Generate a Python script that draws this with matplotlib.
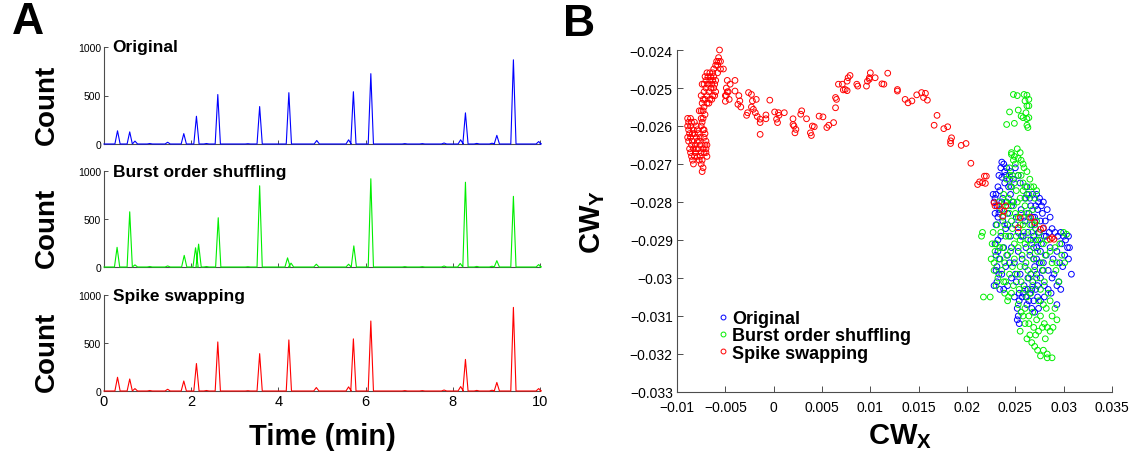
import numpy as np
import matplotlib
matplotlib.use("Agg")
import matplotlib.pyplot as plt
from matplotlib.lines import Line2D
from matplotlib.ticker import FuncFormatter

plt.rcParams['font.family'] = ['Liberation Sans', 'DejaVu Sans']
plt.rcParams['mathtext.fontset'] = 'custom'
plt.rcParams['mathtext.bf'] = 'Liberation Sans:bold'
plt.rcParams['mathtext.rm'] = 'Liberation Sans'

# ---------------- Panel A: spike-count histograms (peak time in min, count) ----------------
panel_titles = ["Original", "Burst order shuffling", "Spike swapping"]
trace_colors = ["#0000ff", "#00ee00", "#ff0000"]

orig_peaks = [(0.31, 136), (0.59, 125), (0.71, 30), (1.05, 5), (1.46, 18), (1.83, 107),
              (2.12, 286), (2.35, 5), (2.61, 510), (3.3, 3), (3.57, 386), (4.24, 529),
              (4.88, 36), (5.61, 43), (5.72, 539), (6.12, 725), (6.9, 4), (7.3, 4),
              (7.8, 10), (8.18, 43), (8.29, 321), (8.55, 6), (8.9, 8), (9.01, 89),
              (9.39, 868), (9.97, 25)]
shuffle_peaks = [(0.30, 205), (0.59, 575), (0.71, 22), (1.05, 5), (1.46, 11), (1.84, 121),
                 (2.10, 200), (2.17, 238), (2.35, 5), (2.62, 513), (3.3, 3), (3.57, 846),
                 (4.21, 95), (4.29, 40), (4.87, 29), (5.61, 29), (5.73, 220), (6.12, 919),
                 (6.9, 4), (7.3, 4), (7.8, 10), (8.17, 37), (8.29, 883), (8.55, 6),
                 (8.9, 8), (9.01, 66), (9.39, 736), (9.97, 25)]
swap_peaks = [(0.31, 143), (0.59, 125), (0.71, 25), (1.05, 5), (1.46, 18), (1.83, 104),
              (2.12, 286), (2.35, 5), (2.61, 511), (3.3, 3), (3.57, 389), (4.24, 532),
              (4.87, 36), (5.61, 43), (5.72, 543), (6.12, 729), (6.9, 4), (7.3, 4),
              (7.8, 10), (8.18, 46), (8.29, 329), (8.55, 6), (8.9, 8), (9.01, 89),
              (9.39, 871), (9.97, 25)]
all_peaks = [orig_peaks, shuffle_peaks, swap_peaks]

time_ticks = [0, 2, 4, 6, 8, 10]
count_ticks = [0, 500, 1000]
peak_halfwidth = 0.06

# ---------------- Panel B: CW_X / CW_Y coordinates (units of 1e-3) ----------------
orig_cw_milli = [
    (23.6, -26.95), (23.8, -27.0), (23.5, -27.1), (24.1, -27.1), (23.3, -27.3), (23.6, -27.35),
    (24.0, -27.3), (24.5, -27.2), (25.0, -27.1), (25.3, -27.3), (24.8, -27.4), (23.9, -27.5),
    (23.2, -27.6), (23.0, -27.8), (22.7, -27.8), (23.4, -27.7), (24.3, -27.6), (25.5, -27.5),
    (26.2, -27.6), (26.8, -27.8), (27.2, -27.8), (27.5, -27.9), (26.0, -27.9), (27.9, -28.0),
    (27.7, -28.1),
    (22.8, -28.0), (23.1, -28.1), (22.9, -28.3), (23.2, -28.4), (23.0, -28.6), (23.4, -28.2),
    (23.7, -28.5), (24.2, -28.3), (24.6, -28.1), (25.1, -28.4), (25.6, -28.2), (26.0, -28.5),
    (26.4, -28.3), (26.7, -28.6), (27.0, -28.4), (27.3, -28.2), (27.6, -28.5), (27.9, -28.7),
    (28.3, -28.2), (28.6, -28.4), (28.2, -28.9), (28.8, -28.7), (29.1, -28.8), (29.4, -28.9),
    (29.7, -28.8), (30.0, -28.9), (30.5, -28.9), (23.5, -28.9), (24.0, -28.7), (24.5, -28.9),
    (25.3, -28.8), (25.8, -28.9), (26.3, -28.8), (26.9, -28.9), (27.4, -28.8), (25.0, -28.6),
    (24.8, -28.0), (26.6, -28.1), (27.1, -28.7),
    (22.9, -29.1), (23.2, -29.3), (23.1, -29.7), (23.0, -29.8), (23.4, -29.5), (23.8, -29.2),
    (24.2, -29.4), (24.6, -29.2), (24.9, -29.6), (25.3, -29.3), (25.7, -29.5), (26.1, -29.2),
    (26.5, -29.4), (26.9, -29.2), (27.2, -29.5), (27.6, -29.3), (27.9, -29.6), (28.2, -29.4),
    (28.6, -29.2), (28.9, -29.5), (29.3, -29.3), (29.6, -29.6), (30.1, -29.4), (30.4, -29.2),
    (30.6, -29.2), (30.5, -29.5), (30.8, -29.9), (29.5, -30.1), (29.3, -30.2), (28.8, -30.0),
    (28.4, -30.3), (28.0, -30.2), (27.6, -30.0), (27.2, -29.9), (26.8, -30.1), (26.3, -30.0),
    (25.9, -30.2), (25.5, -29.9), (25.1, -30.1), (24.6, -30.0), (24.2, -30.2), (23.8, -30.3),
    (23.4, -30.3), (22.8, -30.2), (23.6, -29.9), (24.0, -29.7), (26.0, -29.7), (27.0, -29.7),
    (28.4, -29.8), (29.0, -29.9),
    (25.4, -30.4), (25.7, -30.5), (26.1, -30.5), (26.5, -30.4), (26.9, -30.6), (27.3, -30.5),
    (27.0, -30.9), (25.2, -30.8), (25.3, -31.0), (25.2, -31.1), (25.4, -31.2), (26.2, -30.7),
    (27.4, -30.8), (29.3, -30.7), (24.9, -30.5),
    (23.9, -27.2), (24.4, -27.4), (23.7, -27.9), (24.1, -28.0), (24.5, -27.8), (22.9, -27.9),
    (23.3, -28.3), (23.6, -28.0), (27.4, -28.0), (27.8, -28.3), (28.1, -28.5), (28.5, -28.8),
    (27.3, -29.0), (27.7, -29.1), (28.0, -28.9), (27.2, -29.2), (27.5, -29.6), (27.8, -29.8),
    (27.3, -30.2), (26.7, -30.3), (27.1, -30.3), (26.6, -29.9), (26.9, -29.5), (26.6, -29.0),
    (26.8, -28.4), (27.1, -28.1), (26.5, -27.9), (24.6, -27.6), (23.2, -29.0), (23.0, -29.4),
    (23.3, -29.9), (23.1, -30.1), (24.4, -29.6), (25.0, -29.9), (25.8, -30.4), (26.4, -30.6),
    (26.7, -30.8), (25.4, -30.6), (29.8, -29.1), (30.2, -29.0), (29.9, -29.7), (29.7, -30.3),
    (28.7, -30.4), (28.0, -30.5), (27.6, -30.6), (26.3, -30.3), (25.6, -28.9), (24.2, -28.6),
    (25.9, -28.4), (26.2, -27.8),
]

shuffle_cw_milli = [
    (24.8, -25.17), (25.2, -25.2), (25.9, -25.17), (26.2, -25.19), (26.4, -25.3), (26.0, -25.34),
    (26.2, -25.47), (26.4, -25.47), (24.4, -25.63), (25.3, -25.58), (25.6, -25.74), (26.1, -25.65),
    (26.2, -25.81), (26.4, -25.78), (24.1, -25.96), (24.9, -25.93), (26.2, -25.98), (26.3, -26.04),
    (25.8, -25.78),
    (25.2, -26.6), (25.5, -26.7), (24.6, -26.7), (24.9, -26.8), (25.6, -26.9), (25.0, -27.0),
    (24.4, -27.1), (25.9, -27.1), (26.2, -27.2), (24.7, -27.3), (25.3, -27.3), (26.5, -27.4),
    (24.1, -27.4), (25.8, -27.5), (26.9, -27.6), (27.2, -27.7), (24.5, -27.6), (25.1, -27.7),
    (23.8, -27.8), (26.4, -27.8),
    (23.3, -28.0), (23.6, -28.2), (24.0, -28.0), (24.4, -28.3), (24.8, -28.1), (25.2, -28.0),
    (25.6, -28.3), (26.0, -28.1), (26.4, -28.4), (26.8, -28.2), (27.2, -28.5), (23.1, -28.6),
    (23.5, -28.8), (23.9, -28.6), (24.3, -28.9), (24.7, -28.7), (25.1, -28.9), (25.5, -28.6),
    (25.9, -28.8), (26.3, -29.0), (26.7, -28.8), (27.1, -29.0), (27.5, -28.8), (27.9, -29.1),
    (22.6, -29.1), (22.9, -29.3), (23.3, -29.5), (23.7, -29.2), (24.1, -29.4), (24.5, -29.3),
    (24.9, -29.5), (25.3, -29.2), (25.7, -29.4), (26.1, -29.6), (26.5, -29.3), (26.9, -29.5),
    (27.3, -29.3), (27.7, -29.6), (28.1, -29.4), (28.6, -29.3), (29.1, -29.2), (29.6, -29.1),
    (30.0, -28.8), (30.3, -28.85), (29.8, -29.4), (30.1, -29.6), (22.8, -29.8), (23.2, -30.0),
    (23.6, -29.8), (24.0, -30.1), (24.4, -29.9), (24.8, -30.2), (25.2, -29.9), (25.6, -30.1),
    (26.0, -30.3), (26.4, -30.0), (26.8, -30.2), (27.2, -30.0), (27.6, -30.3), (28.0, -30.1),
    (29.5, -30.1), (29.2, -29.8), (21.6, -28.8), (21.5, -28.9), (21.7, -30.5), (22.4, -30.5),
    (22.5, -29.5), (23.9, -30.4), (24.3, -30.5),
    (25.3, -30.7), (25.6, -30.9), (26.0, -30.8), (26.4, -31.0), (26.8, -30.9), (27.2, -31.1),
    (27.6, -31.0), (28.0, -31.2), (28.3, -31.3), (28.8, -31.0), (29.3, -31.1), (28.6, -30.6),
    (28.4, -30.4), (27.9, -30.7), (27.4, -31.4), (26.9, -31.3), (26.5, -31.5), (26.0, -31.2),
    (25.5, -31.4), (26.2, -31.6), (26.7, -31.7), (27.0, -31.8), (27.3, -31.9), (27.9, -31.9),
    (28.3, -32.0), (27.6, -32.05), (28.3, -32.1), (28.8, -32.1), (28.1, -31.6), (28.6, -31.4),
    (24.6, -26.75), (24.8, -26.9), (25.3, -26.85), (25.8, -27.0), (24.4, -27.3), (25.6, -27.3),
    (24.9, -27.5), (26.0, -27.6), (26.6, -27.6), (24.3, -27.9), (25.5, -27.9), (26.1, -27.9),
    (27.0, -27.9), (23.7, -28.4), (24.6, -28.5), (25.3, -28.4), (25.8, -28.6), (26.5, -28.6),
    (27.0, -28.6), (24.0, -28.9), (24.9, -29.1), (25.5, -29.0), (26.0, -29.1), (26.7, -29.1),
    (23.4, -29.2), (23.9, -29.6), (24.7, -29.7), (25.5, -29.7), (26.3, -29.8), (27.0, -29.8),
    (27.9, -29.8), (23.0, -30.2), (23.8, -30.1), (24.6, -30.4), (25.4, -30.3), (26.2, -30.5),
    (26.6, -30.4), (27.4, -30.6), (28.2, -30.8), (27.8, -31.3), (27.1, -31.5), (26.4, -31.2),
    (25.8, -31.0), (28.9, -31.3), (29.1, -30.8), (22.7, -28.8), (23.0, -29.1), (22.8, -29.6),
    (24.2, -28.1), (25.0, -28.3), (26.2, -28.3), (27.5, -29.0), (28.3, -29.0), (28.8, -29.6),
    (29.3, -29.6), (24.2, -30.6), (25.8, -27.7), (24.7, -28.0),
]

swap_cw_milli = [
    # lower-left cloud
    (-8.9, -25.8), (-8.8, -25.9), (-8.6, -25.8), (-8.5, -25.9), (-8.9, -26.0), (-8.8, -26.1),
    (-8.9, -26.3), (-8.8, -26.4), (-8.7, -26.2), (-8.6, -26.3), (-8.5, -26.5), (-8.4, -26.4),
    (-8.7, -26.6), (-8.6, -26.7), (-8.5, -26.8), (-8.4, -26.9), (-8.3, -27.0), (-8.2, -26.8),
    (-8.3, -26.6), (-8.1, -26.5), (-8.0, -26.3), (-8.2, -26.2), (-8.0, -26.6), (-7.9, -26.8),
    (-7.8, -26.6), (-7.7, -26.4), (-7.8, -26.2), (-7.6, -26.5), (-7.5, -26.7), (-7.4, -26.9),
    (-7.5, -27.0), (-7.4, -27.2), (-7.3, -27.1), (-7.6, -26.3), (-7.5, -26.0), (-7.4, -25.9),
    (-7.3, -26.1), (-7.2, -26.3), (-7.1, -26.5), (-7.2, -26.7), (-7.0, -26.6), (-6.9, -26.8),
    (-7.0, -26.4), (-6.9, -26.5), (-7.1, -26.2), (-7.5, -25.8), (-7.7, -25.6), (-8.2, -25.9),
    (-8.0, -26.0), (-8.3, -26.1), (-7.9, -26.4), (-8.1, -26.7), (-7.7, -26.9), (-7.3, -26.6),
    (-7.6, -26.8), (-7.2, -26.1), (-7.0, -26.7), (-8.6, -26.0), (-8.4, -26.2), (-7.9, -26.1),
    # rising column
    (-7.5, -25.6), (-7.4, -25.4), (-7.3, -25.6), (-7.2, -25.5), (-7.3, -25.3), (-7.5, -25.2),
    (-7.2, -25.1), (-7.4, -24.9), (-7.1, -25.3), (-7.0, -25.0), (-7.0, -24.8), (-6.9, -25.2),
    (-6.8, -24.9), (-6.8, -24.7), (-6.7, -25.1), (-6.6, -24.8), (-6.6, -25.3), (-6.5, -25.0),
    (-6.5, -24.7), (-6.4, -24.9), (-6.3, -25.2), (-6.3, -24.8), (-6.2, -25.0), (-6.2, -24.7),
    (-6.1, -24.9), (-6.0, -24.8), (-7.1, -24.7), (-6.9, -24.6), (-6.7, -25.4), (-6.4, -25.3),
    (-6.1, -25.2), (-7.3, -25.8), (-7.1, -25.7), (-6.6, -24.6), (-6.3, -24.6), (-6.9, -25.4),
    (-7.2, -24.9), (-6.0, -25.1),
    # summit
    (-6.2, -24.5), (-6.0, -24.4), (-5.9, -24.3), (-5.8, -24.4), (-5.7, -24.2), (-5.6, -24.0),
    (-5.7, -24.3), (-5.5, -24.3), (-5.5, -24.5), (-5.2, -24.5), (-5.8, -24.6),
    # path towards the cluster
    (-5.0, -25.2), (-4.9, -25.0), (-4.8, -24.8), (-4.7, -25.1), (-4.6, -25.3), (-5.0, -25.35),
    (-4.9, -25.2), (-4.8, -25.1), (-4.5, -24.9), (-4.0, -24.8), (-4.0, -25.08), (-3.6, -25.2),
    (-3.5, -25.34), (-3.4, -25.5), (-3.7, -25.43), (-2.6, -25.12), (-2.3, -25.17), (-2.2, -25.34),
    (-2.3, -25.5), (-2.7, -25.65), (-2.8, -25.72), (-2.1, -25.56), (-1.9, -25.65), (-1.8, -25.3),
    (-1.7, -25.75), (-1.4, -25.82), (-1.4, -25.91), (-1.4, -26.22), (-0.8, -25.81), (-0.8, -25.71),
    (-0.4, -25.32), (0.1, -25.63), (0.5, -25.65), (0.3, -25.82), (0.4, -25.91), (0.55, -25.72),
    (1.1, -25.65), (2.0, -25.81), (2.0, -25.96), (2.1, -26.0), (2.3, -26.09), (2.2, -26.18),
    (2.8, -25.69), (2.9, -25.6), (3.4, -25.81), (3.8, -26.18), (3.9, -26.25), (4.0, -26.0),
    (4.2, -26.02), (4.7, -25.74), (5.1, -25.76), (5.5, -26.04), (5.7, -25.98), (6.2, -25.91),
    (6.4, -25.52), (6.5, -25.3), (6.4, -25.25), (6.7, -24.9), (7.1, -24.9), (7.2, -25.05),
    (7.4, -25.04), (7.6, -24.82), (7.7, -24.73), (7.9, -24.67), (7.6, -25.07), (8.6, -24.9),
    (8.7, -24.95), (9.6, -24.95), (9.7, -24.82), (9.9, -24.73), (10.0, -24.6), (9.9, -24.77),
    (10.5, -24.73), (11.2, -24.89), (11.4, -24.9), (11.8, -24.61), (12.8, -25.04), (12.8, -25.08),
    (13.6, -25.3), (13.9, -25.39), (14.3, -25.34), (14.8, -25.18), (15.3, -25.12), (15.7, -25.14),
    (15.5, -25.25), (15.9, -25.32), (16.6, -25.98), (16.9, -25.72), (17.6, -26.07), (18.0, -26.02),
    (18.3, -26.39), (18.4, -26.31), (18.3, -26.46), (19.4, -26.51), (19.9, -26.46), (20.4, -26.98),
    (21.1, -27.54), (21.3, -27.47), (21.6, -27.49), (21.8, -27.32), (22.0, -27.32), (21.9, -27.51),
    (22.8, -28.02), (22.9, -28.1), (23.3, -28.1), (23.8, -28.24), (24.0, -28.1), (23.7, -28.37),
    (25.3, -28.68), (25.5, -28.41), (26.6, -28.41), (27.0, -28.54), (27.6, -28.72), (27.9, -28.68),
    (28.8, -28.94), (29.0, -28.98), (28.6, -28.98),
]

scatter_sets = [orig_cw_milli, shuffle_cw_milli, swap_cw_milli]
scatter_colors = ["#0000ff", "#00ee00", "#ff0000"]
cw_x_ticks = [-0.01, -0.005, 0, 0.005, 0.01, 0.015, 0.02, 0.025, 0.03, 0.035]
cw_y_ticks = [-0.033, -0.032, -0.031, -0.03, -0.029, -0.028, -0.027, -0.026, -0.025, -0.024]

SPINE = "#4d4d4d"

fig = plt.figure(figsize=(11.37, 4.56), dpi=100)
W, H = 1137.0, 456.0


def px_rect(left, top, right, bottom):
    return [left / W, 1 - bottom / H, (right - left) / W, (bottom - top) / H]


def peak_trace(peaks, hw):
    xs, ys = [0.0], [0.0]
    for t, h in sorted(peaks):
        xs += [t - hw, t, t + hw]
        ys += [0, h, 0]
    xs.append(10.0)
    ys.append(0.0)
    return xs, ys


panel_a_boxes = [(104, 48, 540, 145), (104, 172, 540, 268), (104, 296, 540, 392)]
for i, (peaks, title, col) in enumerate(zip(all_peaks, panel_titles, trace_colors)):
    ax = fig.add_axes(px_rect(*panel_a_boxes[i]))
    xs, ys = peak_trace(peaks, peak_halfwidth)
    ax.plot(xs, ys, color=col, lw=0.8, zorder=3, clip_on=False)
    ax.set_xlim(0, 10)
    ax.set_ylim(0, 1000)
    for s in ("top", "right"):
        ax.spines[s].set_visible(False)
    for s in ("left", "bottom"):
        ax.spines[s].set_color(SPINE)
        ax.spines[s].set_linewidth(0.8)
    ax.set_yticks(count_ticks)
    ax.set_xticks(time_ticks)
    ax.tick_params(direction="in", length=3, width=0.7, color=SPINE)
    ax.tick_params(axis="y", labelsize=7.5, pad=2)
    ax.tick_params(axis="x", labelsize=10.5, pad=2)
    if i < 2:
        ax.set_xticklabels([])
    ax.text(0.2, 1000, title, fontsize=12.5, fontweight="bold", va="center", ha="left")
    fig.text(47 / W, 1 - (panel_a_boxes[i][1] + panel_a_boxes[i][3]) / 2 / H - 8 / H, "Count",
             rotation=90, fontsize=20, fontweight="bold", ha="center", va="center")

fig.text(322 / W, 1 - 437 / H, "Time (min)", fontsize=21, fontweight="bold",
         ha="center", va="center")
fig.text(28 / W, 1 - 23 / H, "A", fontsize=32, fontweight="bold", ha="center", va="center")
fig.text(579 / W, 1 - 25 / H, "B", fontsize=32, fontweight="bold", ha="center", va="center")

# Panel B scatter
axb = fig.add_axes(px_rect(677, 51, 1112, 393))
labels_b = ["Original", "Burst order shuffling", "Spike swapping"]
for pts, col in zip(scatter_sets, scatter_colors):
    arr = np.array(pts) * 1e-3
    axb.scatter(arr[:, 0], arr[:, 1], s=17, facecolors="none", edgecolors=col,
                linewidths=0.7, clip_on=False)
axb.set_xlim(-0.01, 0.035)
axb.set_ylim(-0.033, -0.024)
axb.set_xticks(cw_x_ticks)
axb.set_yticks(cw_y_ticks)


def fmt(v, _pos):
    s = "%g" % round(v, 6)
    return s.replace("-", "\u2212")


axb.xaxis.set_major_formatter(FuncFormatter(fmt))
axb.yaxis.set_major_formatter(FuncFormatter(fmt))
for s in ("top", "right"):
    axb.spines[s].set_visible(False)
for s in ("left", "bottom"):
    axb.spines[s].set_color(SPINE)
    axb.spines[s].set_linewidth(0.8)
axb.tick_params(direction="in", length=4, width=0.7, color=SPINE, labelsize=10)
axb.tick_params(axis="x", pad=6)
axb.tick_params(axis="y", pad=3)

handles = [Line2D([], [], ls="none", marker="o", markersize=3.5, mfc="none", mec=c, mew=0.7)
           for c in scatter_colors]
axb.legend(handles, labels_b, loc="upper left", bbox_to_anchor=(0.095, 0.24), frameon=False,
           handlelength=0.5, handletextpad=0.25, labelspacing=0.02, borderpad=0,
           borderaxespad=0, prop={"weight": "bold", "size": 13})

fig.text(593 / W, 1 - 222 / H, r"$\mathbf{CW_Y}$", rotation=90, fontsize=21,
         ha="center", va="center")
fig.text(900 / W, 1 - 437 / H, r"$\mathbf{CW_X}$", fontsize=21, ha="center", va="center")

fig.savefig("out.png", dpi=100)
